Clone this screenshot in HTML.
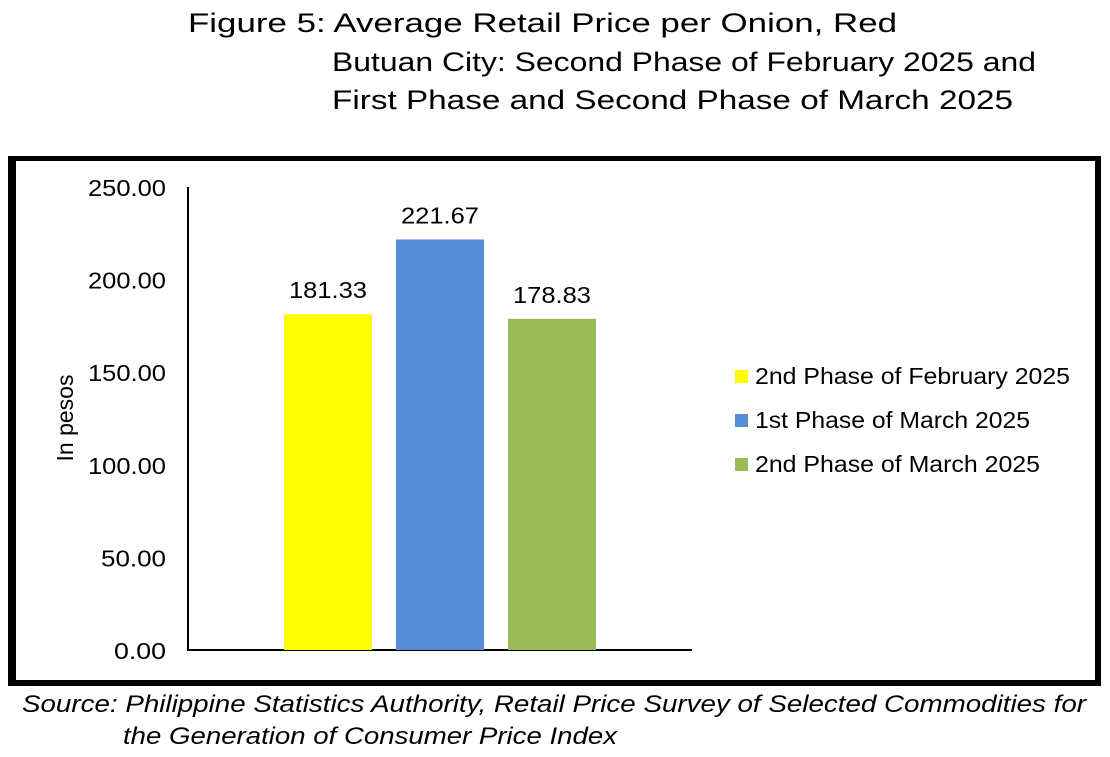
<!DOCTYPE html>
<html><head><meta charset="utf-8"><style>
body{margin:0;width:1110px;height:757px;background:#fff;font-family:"Liberation Sans",Arial,sans-serif;overflow:hidden;position:relative}
</style></head><body>
<div style="position:absolute;left:8px;top:156px;width:1079px;height:519px;border-left:8px solid #000;border-top:5px solid #000;border-right:6px solid #000;border-bottom:6px solid #000"></div>
<svg id="chart" width="1110" height="757" style="position:absolute;left:0;top:0" font-family="Liberation Sans, Arial, sans-serif">
<text x="188" y="32" font-size="27" textLength="709" lengthAdjust="spacingAndGlyphs">Figure 5: Average Retail Price per Onion, Red</text>
<text x="332" y="71" font-size="27" textLength="704" lengthAdjust="spacingAndGlyphs">Butuan City: Second Phase of February 2025 and</text>
<text x="332" y="109" font-size="27" textLength="681" lengthAdjust="spacingAndGlyphs">First Phase and Second Phase of March 2025</text>
<text x="22" y="712" font-size="24" font-style="italic" textLength="1064" lengthAdjust="spacingAndGlyphs">Source: Philippine Statistics Authority, Retail Price Survey of Selected Commodities for</text>
<text x="123" y="744" font-size="24" font-style="italic" textLength="494" lengthAdjust="spacingAndGlyphs">the Generation of Consumer Price Index</text>
</svg>
<script>
const series = ["2nd Phase of February 2025","1st Phase of March 2025","2nd Phase of March 2025"];
const values = [181.33, 221.67, 178.83];
const colors = ["#ffff00","#558ed5","#9bbb59"];
const ticks = [0,50,100,150,200,250];
const legendWidths = [315,275,285];
const svg = document.getElementById('chart');
const NS = "http://www.w3.org/2000/svg";
const y0 = 650, yTop = 187, maxV = 250;
function y(v){return y0 - (v/maxV)*(y0-yTop);}
function mk(t,a){const e=document.createElementNS(NS,t);for(const k in a)e.setAttribute(k,a[k]);svg.appendChild(e);return e;}
let ax=mk('line',{x1:188,y1:yTop,x2:188,y2:y0,stroke:'#000','stroke-width':2});


let xx=mk('line',{x1:187,y1:y0,x2:692,y2:y0,stroke:'#000','stroke-width':2});


ticks.forEach(t=>{
  const s=t.toFixed(2);
  const e=mk('text',{x:166,y:y(t)+9,'text-anchor':'end','font-size':23,textLength:s.length*13,lengthAdjust:'spacingAndGlyphs'});
  e.textContent=s;
  
  
});
const yt=mk('text',{transform:'translate(73,418) rotate(-90)','text-anchor':'middle','font-size':23});
yt.textContent='In pesos';


const bw=88, start=284, step=112;
values.forEach((v,i)=>{
  const x=start+i*step;
  const r=mk('rect',{x:x,y:y(v),width:bw,height:y0-y(v),fill:colors[i]});
  
  
  const l=mk('text',{x:x+bw/2,y:y(v)-16,'text-anchor':'middle','font-size':23,textLength:78,lengthAdjust:'spacingAndGlyphs'});
  l.textContent=v.toFixed(2);
  
  
  const s=mk('rect',{x:735,y:370+i*44,width:13,height:13,fill:colors[i]});
  
  
  const lt=mk('text',{x:755,y:384+i*44,'font-size':23,textLength:legendWidths[i],lengthAdjust:'spacingAndGlyphs'});
  lt.textContent=series[i];
  
  
});
</script>
</body></html>
